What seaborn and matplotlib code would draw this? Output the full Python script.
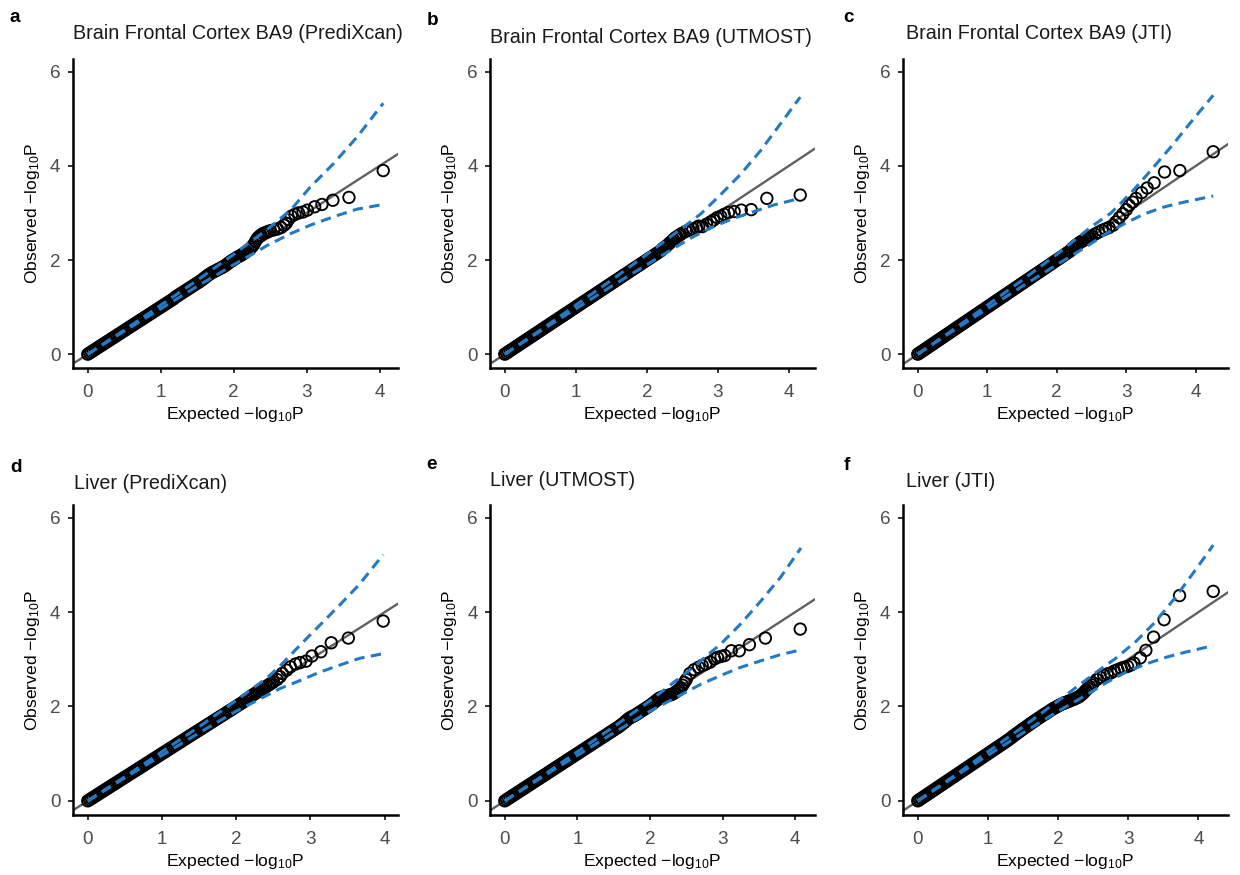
import matplotlib
matplotlib.use("Agg")
import matplotlib.pyplot as plt
import seaborn as sns
import pandas as pd

# ---------------- data ----------------
titles = ["Brain Frontal Cortex BA9 (PrediXcan)", "Brain Frontal Cortex BA9 (UTMOST)",
          "Brain Frontal Cortex BA9 (JTI)", "Liver (PrediXcan)", "Liver (UTMOST)", "Liver (JTI)"]
tags = ["a", "b", "c", "d", "e", "f"]
x_ticks = [0, 1, 2, 3, 4]
y_ticks = [0, 2, 4, 6]

# low part of the cloud (expected < 1.2): every panel sits on the diagonal here
low_exp = [0.000, 0.025, 0.050, 0.075, 0.100, 0.125, 0.150, 0.175, 0.200, 0.225, 0.250, 0.275,
           0.300, 0.325, 0.350, 0.375, 0.400, 0.425, 0.450, 0.475, 0.500, 0.525, 0.550, 0.575,
           0.600, 0.625, 0.650, 0.675, 0.700, 0.725, 0.750, 0.775, 0.800, 0.825, 0.850, 0.875,
           0.900, 0.925, 0.950, 0.975, 1.000, 1.025, 1.050, 1.075, 1.100, 1.125, 1.150, 1.175]
low_obs = [0.000, 0.025, 0.050, 0.075, 0.100, 0.125, 0.150, 0.175, 0.200, 0.225, 0.250, 0.275,
           0.300, 0.325, 0.350, 0.375, 0.400, 0.425, 0.450, 0.475, 0.500, 0.525, 0.550, 0.575,
           0.600, 0.625, 0.650, 0.675, 0.700, 0.725, 0.750, 0.775, 0.800, 0.825, 0.850, 0.875,
           0.900, 0.925, 0.950, 0.975, 1.000, 1.025, 1.050, 1.075, 1.100, 1.125, 1.150, 1.175]

# middle part of the cloud (1.2 .. 2.5)
mid_exp = [1.200, 1.225, 1.250, 1.275, 1.300, 1.325, 1.350, 1.375, 1.400, 1.425, 1.450, 1.475,
           1.500, 1.525, 1.550, 1.575, 1.600, 1.625, 1.650, 1.675, 1.700, 1.725, 1.750, 1.775,
           1.800, 1.825, 1.850, 1.875, 1.900, 1.925, 1.950, 1.975, 2.000, 2.025, 2.050, 2.075,
           2.100, 2.125, 2.150, 2.175, 2.200, 2.225, 2.250, 2.275, 2.300, 2.325, 2.350, 2.375,
           2.400, 2.425, 2.450, 2.475, 2.500]

a_mid_obs = [1.210, 1.235, 1.260, 1.285, 1.310, 1.335, 1.360, 1.385, 1.410, 1.435, 1.460, 1.485,
             1.510, 1.535, 1.560, 1.590, 1.620, 1.650, 1.680, 1.705, 1.730, 1.750, 1.770, 1.790,
             1.810, 1.830, 1.850, 1.875, 1.900, 1.930, 1.960, 1.985, 2.010, 2.035, 2.060, 2.080,
             2.100, 2.125, 2.150, 2.180, 2.210, 2.240, 2.280, 2.330, 2.400, 2.460, 2.500, 2.530,
             2.560, 2.575, 2.590, 2.605, 2.620]
b_mid_obs = [1.200, 1.225, 1.250, 1.275, 1.300, 1.325, 1.350, 1.375, 1.400, 1.425, 1.450, 1.475,
             1.500, 1.525, 1.550, 1.575, 1.600, 1.625, 1.650, 1.675, 1.700, 1.725, 1.750, 1.775,
             1.800, 1.825, 1.850, 1.875, 1.900, 1.925, 1.950, 1.975, 2.000, 2.025, 2.050, 2.075,
             2.100, 2.125, 2.150, 2.175, 2.200, 2.245, 2.270, 2.300, 2.330, 2.365, 2.400, 2.435,
             2.470, 2.495, 2.520, 2.545, 2.570]
c_mid_obs = [1.200, 1.225, 1.250, 1.275, 1.300, 1.325, 1.350, 1.375, 1.400, 1.425, 1.450, 1.475,
             1.500, 1.525, 1.550, 1.575, 1.600, 1.625, 1.650, 1.675, 1.700, 1.725, 1.750, 1.775,
             1.800, 1.825, 1.850, 1.875, 1.900, 1.925, 1.950, 1.975, 2.000, 2.025, 2.050, 2.075,
             2.100, 2.125, 2.150, 2.175, 2.200, 2.250, 2.280, 2.310, 2.340, 2.365, 2.390, 2.410,
             2.430, 2.450, 2.470, 2.490, 2.510]
d_mid_obs = [1.200, 1.225, 1.250, 1.275, 1.300, 1.325, 1.350, 1.375, 1.400, 1.425, 1.450, 1.475,
             1.500, 1.525, 1.550, 1.575, 1.600, 1.625, 1.650, 1.675, 1.700, 1.725, 1.750, 1.775,
             1.800, 1.825, 1.850, 1.875, 1.900, 1.925, 1.950, 1.975, 2.000, 2.025, 2.050, 2.075,
             2.100, 2.140, 2.160, 2.190, 2.220, 2.245, 2.270, 2.295, 2.320, 2.345, 2.370, 2.395,
             2.420, 2.445, 2.470, 2.495, 2.520]
e_mid_obs = [1.200, 1.225, 1.250, 1.275, 1.300, 1.325, 1.350, 1.375, 1.400, 1.425, 1.450, 1.475,
             1.500, 1.525, 1.550, 1.575, 1.605, 1.635, 1.665, 1.700, 1.735, 1.760, 1.780, 1.800,
             1.820, 1.845, 1.870, 1.895, 1.920, 1.945, 1.970, 1.995, 2.020, 2.050, 2.080, 2.110,
             2.140, 2.170, 2.190, 2.205, 2.215, 2.225, 2.235, 2.245, 2.255, 2.275, 2.300, 2.330,
             2.360, 2.400, 2.450, 2.510, 2.570]
f_mid_obs = [1.200, 1.225, 1.250, 1.275, 1.302, 1.330, 1.360, 1.385, 1.415, 1.440, 1.470, 1.495,
             1.525, 1.550, 1.575, 1.600, 1.630, 1.655, 1.680, 1.705, 1.730, 1.755, 1.780, 1.805,
             1.830, 1.850, 1.875, 1.900, 1.925, 1.950, 1.970, 1.990, 2.010, 2.030, 2.050, 2.065,
             2.080, 2.095, 2.110, 2.125, 2.140, 2.155, 2.170, 2.190, 2.210, 2.240, 2.270, 2.310,
             2.350, 2.385, 2.420, 2.460, 2.500]

# upper tail (individual circles)
a_tail_exp = [2.55, 2.60, 2.65, 2.69, 2.72, 2.75, 2.79, 2.84, 2.89, 2.95, 3.01, 3.11, 3.21, 3.36, 3.58, 4.05]
a_tail_obs = [2.64, 2.66, 2.69, 2.74, 2.78, 2.86, 2.93, 2.97, 3.00, 3.02, 3.06, 3.13, 3.18, 3.27, 3.33, 3.90]
b_tail_exp = [2.55, 2.60, 2.65, 2.70, 2.73, 2.78, 2.84, 2.90, 2.94, 2.99, 3.04, 3.09, 3.15, 3.23, 3.33, 3.47, 3.69, 4.16]
b_tail_obs = [2.61, 2.64, 2.66, 2.69, 2.72, 2.71, 2.76, 2.81, 2.85, 2.90, 2.93, 2.97, 3.01, 3.03, 3.06, 3.07, 3.31, 3.38]
c_tail_exp = [2.55, 2.60, 2.65, 2.70, 2.75, 2.81, 2.85, 2.90, 2.95, 3.00, 3.04, 3.09, 3.14, 3.22, 3.30, 3.40, 3.55, 3.77, 4.25]
c_tail_obs = [2.55, 2.59, 2.63, 2.66, 2.69, 2.74, 2.81, 2.90, 2.98, 3.07, 3.16, 3.23, 3.31, 3.43, 3.53, 3.64, 3.87, 3.90, 4.30]
d_tail_exp = [2.55, 2.59, 2.62, 2.68, 2.73, 2.80, 2.86, 2.94, 3.02, 3.14, 3.28, 3.51, 3.98]
d_tail_obs = [2.57, 2.63, 2.70, 2.77, 2.84, 2.90, 2.93, 2.96, 3.07, 3.16, 3.35, 3.45, 3.81]
e_tail_exp = [2.55, 2.61, 2.67, 2.72, 2.77, 2.83, 2.89, 2.93, 2.98, 3.03, 3.12, 3.23, 3.37, 3.59, 4.07]
e_tail_obs = [2.70, 2.78, 2.83, 2.87, 2.90, 2.94, 3.01, 3.04, 3.06, 3.08, 3.18, 3.18, 3.31, 3.45, 3.64]
f_tail_exp = [2.55, 2.60, 2.65, 2.70, 2.75, 2.80, 2.85, 2.90, 2.94, 2.99, 3.04, 3.08, 3.17, 3.25, 3.36, 3.51, 3.73, 4.21]
f_tail_obs = [2.57, 2.62, 2.66, 2.69, 2.71, 2.75, 2.78, 2.81, 2.83, 2.85, 2.88, 2.92, 3.03, 3.19, 3.47, 3.84, 4.35, 4.44]

# 95% confidence band (upper / lower)
a_up_x = [0.0, 0.5, 1.0, 1.5, 2.0, 2.46, 2.78, 3.05, 3.37, 3.69, 4.05]
a_up_y = [0.0, 0.51, 1.04, 1.57, 2.12, 2.65, 3.06, 3.55, 4.05, 4.61, 5.33]
a_lo_x = [0.0, 0.5, 1.0, 1.5, 2.0, 2.23, 2.46, 2.78, 3.05, 3.37, 3.69, 4.05]
a_lo_y = [0.0, 0.49, 0.965, 1.44, 1.90, 2.10, 2.31, 2.56, 2.74, 2.92, 3.08, 3.18]

b_up_x = [0.0, 0.5, 1.0, 1.5, 2.0, 2.57, 2.76, 3.04, 3.32, 3.60, 3.88, 4.16]
b_up_y = [0.0, 0.51, 1.04, 1.57, 2.12, 2.76, 2.98, 3.39, 3.82, 4.32, 4.89, 5.46]
b_lo_x = [0.0, 0.5, 1.0, 1.5, 2.0, 2.38, 2.66, 2.94, 3.23, 3.51, 3.79, 4.16]
b_lo_y = [0.0, 0.49, 0.965, 1.44, 1.90, 2.25, 2.50, 2.71, 2.89, 3.03, 3.17, 3.31]

c_up_x = [0.0, 0.5, 1.0, 1.5, 2.0, 2.49, 2.78, 3.07, 3.35, 3.64, 3.93, 4.25]
c_up_y = [0.0, 0.51, 1.04, 1.57, 2.12, 2.70, 3.00, 3.43, 3.90, 4.40, 4.93, 5.50]
c_lo_x = [0.0, 0.5, 1.0, 1.5, 2.0, 2.40, 2.69, 2.97, 3.26, 3.55, 3.83, 4.25]
c_lo_y = [0.0, 0.49, 0.965, 1.44, 1.90, 2.26, 2.54, 2.77, 2.98, 3.13, 3.23, 3.36]

d_up_x = [0.0, 0.5, 1.0, 1.5, 2.0, 2.41, 2.59, 2.86, 3.13, 3.40, 3.66, 3.98]
d_up_y = [0.0, 0.51, 1.04, 1.57, 2.13, 2.60, 2.86, 3.30, 3.73, 4.16, 4.59, 5.22]
d_lo_x = [0.0, 0.5, 1.0, 1.5, 2.0, 2.32, 2.59, 2.86, 3.13, 3.40, 3.66, 3.98]
d_lo_y = [0.0, 0.49, 0.965, 1.44, 1.90, 2.16, 2.38, 2.55, 2.73, 2.88, 3.02, 3.12]

e_up_x = [0.0, 0.5, 1.0, 1.5, 2.0, 2.52, 2.70, 2.98, 3.25, 3.53, 3.80, 4.08]
e_up_y = [0.0, 0.51, 1.04, 1.57, 2.12, 2.74, 2.97, 3.33, 3.75, 4.24, 4.74, 5.36]
e_lo_x = [0.0, 0.5, 1.0, 1.5, 2.0, 2.43, 2.70, 2.98, 3.25, 3.53, 3.80, 4.08]
e_lo_y = [0.0, 0.49, 0.965, 1.44, 1.90, 2.25, 2.47, 2.66, 2.83, 2.97, 3.10, 3.20]

f_up_x = [0.0, 0.5, 1.0, 1.5, 2.0, 2.54, 2.82, 3.11, 3.39, 3.67, 3.95, 4.21]
f_up_y = [0.0, 0.51, 1.04, 1.57, 2.12, 2.72, 3.02, 3.38, 3.80, 4.31, 4.88, 5.42]
f_lo_x = [0.0, 0.5, 1.0, 1.5, 2.0, 2.40, 2.68, 2.97, 3.25, 3.53, 3.81, 4.21]
f_lo_y = [0.0, 0.49, 0.965, 1.44, 1.90, 2.24, 2.50, 2.73, 2.90, 3.04, 3.15, 3.29]

panels = [
    (a_mid_obs, a_tail_exp, a_tail_obs, a_up_x, a_up_y, a_lo_x, a_lo_y),
    (b_mid_obs, b_tail_exp, b_tail_obs, b_up_x, b_up_y, b_lo_x, b_lo_y),
    (c_mid_obs, c_tail_exp, c_tail_obs, c_up_x, c_up_y, c_lo_x, c_lo_y),
    (d_mid_obs, d_tail_exp, d_tail_obs, d_up_x, d_up_y, d_lo_x, d_lo_y),
    (e_mid_obs, e_tail_exp, e_tail_obs, e_up_x, e_up_y, e_lo_x, e_lo_y),
    (f_mid_obs, f_tail_exp, f_tail_obs, f_up_x, f_up_y, f_lo_x, f_lo_y),
]

# ---------------- style ----------------
sns.set_style("white")
plt.rcParams["font.family"] = ["Liberation Sans", "DejaVu Sans"]
plt.rcParams["mathtext.fontset"] = "custom"
plt.rcParams["mathtext.rm"] = "Liberation Sans"
plt.rcParams["mathtext.it"] = "Liberation Sans:italic"
plt.rcParams["mathtext.bf"] = "Liberation Sans:bold"

W, H = 1240, 875
fig = plt.figure(figsize=(W / 100, H / 100), dpi=100)
fig.patch.set_facecolor("white")

BLUE = "#2479C4"
GREY = "#606060"
lefts = [73, 490, 903]
rows = [(59, 368.3), (505, 815)]
AX_W = 325
title_pos = [(73.3, 39.3), (490, 42.7), (906, 39.3), (74, 489.3), (490, 486), (906, 487)]
tag_pos = [(10, 21.7), (426.7, 25), (843.3, 21.7), (10, 471.7), (426.7, 469.3), (843.3, 470)]

for k, (mid_obs, t_exp, t_obs, ux, uy, lx, ly) in enumerate(panels):
    r, c = divmod(k, 3)
    top, bottom = rows[r]
    ax = fig.add_axes([lefts[c] / W, 1 - bottom / H, AX_W / W, (bottom - top) / H])

    df = pd.DataFrame({"expected": low_exp + mid_exp + t_exp,
                       "observed": low_obs + mid_obs + t_obs})
    xmax = df["expected"].max()
    ax.set_xlim(-0.05 * xmax, 1.05 * xmax)
    ax.set_ylim(-0.30, 6.27)

    ax.axline((0, 0), (1, 1), color=GREY, lw=1.7, zorder=1)

    sns.scatterplot(data=df, x="expected", y="observed", ax=ax, s=68, marker="o",
                    linewidth=1.35, zorder=3, legend=False)
    pts = ax.collections[-1]
    pts.set_facecolor("none")
    pts.set_edgecolor("black")

    for cx, cy in ((ux, uy), (lx, ly)):
        sns.lineplot(x=cx, y=cy, ax=ax, color=BLUE, lw=2.2, sort=False, estimator=None,
                     linestyle=(0, (3.4, 2.1)), zorder=4, legend=False)

    for s in ("top", "right"):
        ax.spines[s].set_visible(False)
    for s in ("left", "bottom"):
        ax.spines[s].set_linewidth(1.8)
        ax.spines[s].set_color("black")
    ax.set_xticks(x_ticks)
    ax.set_yticks(y_ticks)
    ax.tick_params(axis="both", length=3.5, width=1.4, color="#333333", labelsize=13.6,
                   labelcolor="#4D4D4D", bottom=True, left=True)
    ax.tick_params(axis="x", pad=8)
    ax.tick_params(axis="y", pad=5.5)
    ax.set_xlabel("Expected \u2212log$_{10}$P", fontsize=12.6, color="black", labelpad=3)
    ax.set_ylabel("Observed \u2212log$_{10}$P", fontsize=12.6, color="black", labelpad=6)
    ax.grid(False)

    tx, ty = title_pos[k]
    fig.text(tx / W, 1 - ty / H, titles[k], fontsize=14.2, color="#1A1A1A",
             ha="left", va="baseline")
    gx, gy = tag_pos[k]
    fig.text(gx / W, 1 - gy / H, tags[k], fontsize=13.6, fontweight="bold", color="black",
             ha="left", va="baseline")

fig.savefig("out.png", dpi=100, facecolor="white")
